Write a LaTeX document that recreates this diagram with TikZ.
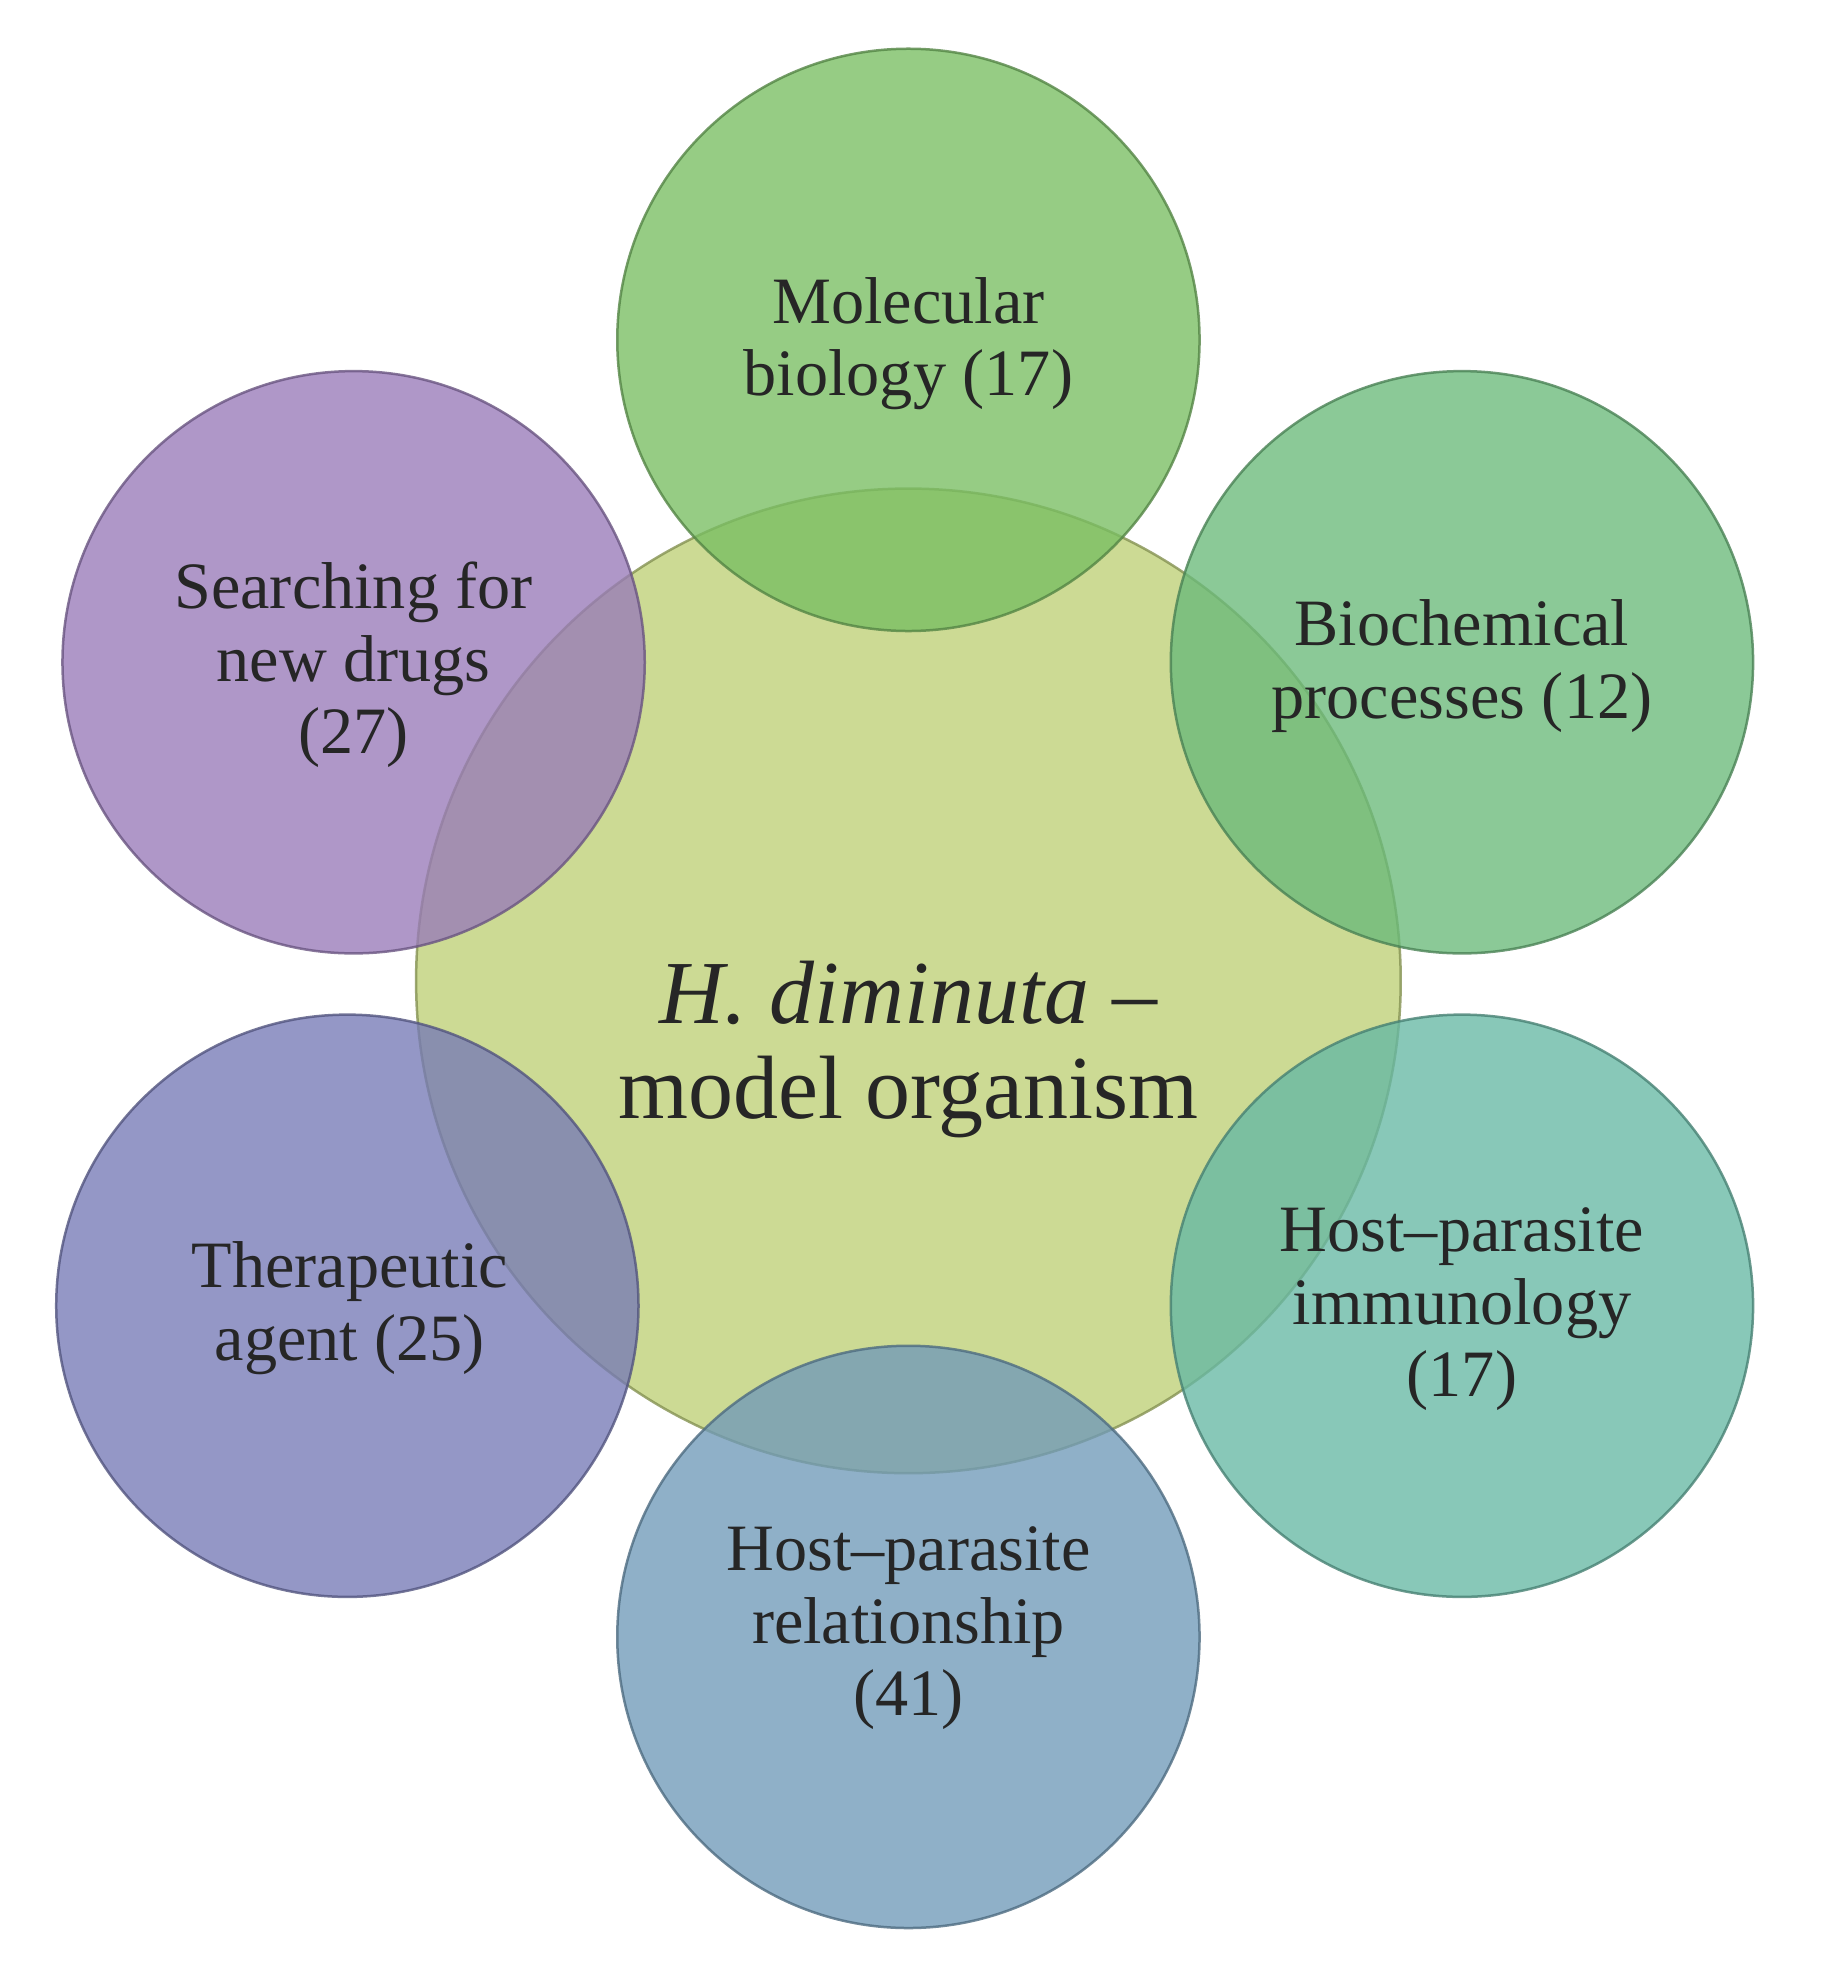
\documentclass[tikz,border=0pt]{standalone}
\usepackage{fontspec}
\setmainfont{Liberation Serif}
\begin{document}
\begin{tikzpicture}[x=0.5pt,y=-0.5pt,
  circ/.style={circle,draw=#1!70!black,line width=1pt,fill=#1,fill opacity=0.78,draw opacity=0.8,inner sep=0pt},
  lab/.style={align=center,font=\fontsize{26.5}{29}\selectfont,text=black!85}]
\useasboundingbox (0,0) rectangle (1464,1575);
\definecolor{cc}{RGB}{190,208,118}
\definecolor{c1}{RGB}{120,190,98}
\definecolor{c2}{RGB}{106,186,122}
\definecolor{c3}{RGB}{102,184,164}
\definecolor{c4}{RGB}{112,154,184}
\definecolor{c5}{RGB}{118,122,182}
\definecolor{c6}{RGB}{152,122,184}
\node[circ=cc,minimum size=394pt] (c) at (727,785) {};
\node[circ=c1,minimum size=233pt] (a1) at (727,272) {};
\node[circ=c2,minimum size=233pt] (a2) at (1170,530) {};
\node[circ=c3,minimum size=233pt] (a3) at (1170,1045) {};
\node[circ=c4,minimum size=233pt] (a4) at (727,1310) {};
\node[circ=c5,minimum size=233pt] (a5) at (278,1045) {};
\node[circ=c6,minimum size=233pt] (a6) at (283,530) {};
\node[lab,font=\fontsize{36}{38}\selectfont] (tc) at (727,840) {\textit{H. diminuta} –\\model organism};
\node[lab] (t1) at (727,275) {Molecular\\biology (17)};
\node[lab] (t2) at (1170,533) {Biochemical\\processes (12)};
\node[lab] (t3) at (1170,1048) {Host–parasite\\immunology\\(17)};
\node[lab] (t4) at (727,1303) {Host–parasite\\relationship\\(41)};
\node[lab] (t5) at (280,1047) {Therapeutic\\agent (25)};
\node[lab] (t6) at (283,532) {Searching for\\new drugs\\(27)};
\end{tikzpicture}
\end{document}
